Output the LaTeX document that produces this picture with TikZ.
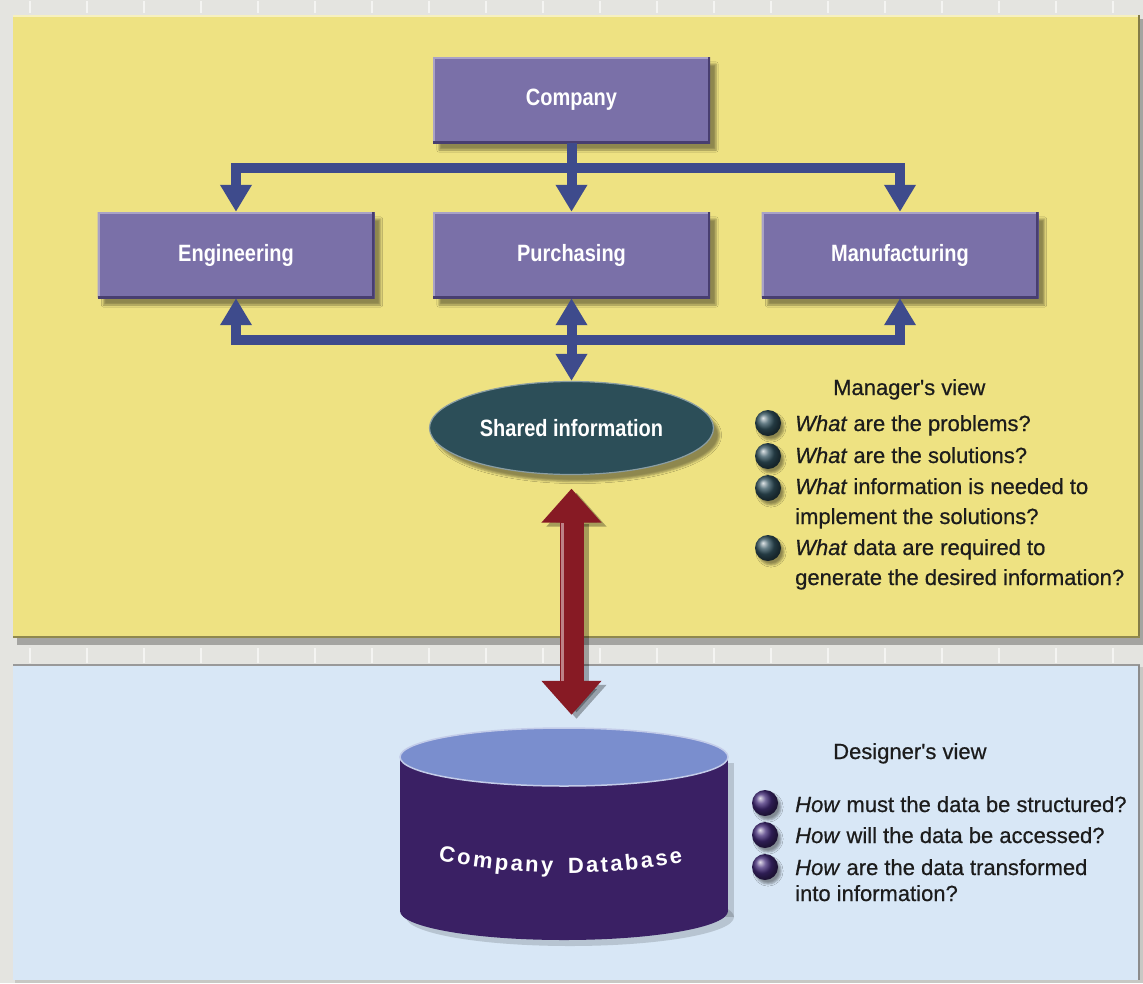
\documentclass[tikz,border=0pt]{standalone}
\usepackage{fontspec}
\setmainfont{Liberation Sans}
\newfontfamily\medfont[BoldFont={Liberation Sans}, BoldItalicFont={Liberation Sans Italic},
  BoldFeatures={FakeBold=0.6}, BoldItalicFeatures={FakeBold=0.6}]{Liberation Sans}
\usetikzlibrary{shapes.geometric,arrows.meta,shadows.blur,calc}

\definecolor{bggray}{RGB}{228,228,224}
\definecolor{panelyellow}{RGB}{238,226,130}
\definecolor{panelblue}{RGB}{216,231,246}
\definecolor{boxpurple}{RGB}{122,112,168}
\definecolor{boxdark}{RGB}{72,62,112}
\definecolor{busblue}{RGB}{62,75,140}
\definecolor{sharedteal}{RGB}{44,78,88}
\definecolor{redarrow}{RGB}{135,26,36}
\definecolor{dbbody}{RGB}{58,32,100}
\definecolor{dbtop}{RGB}{122,142,206}
\definecolor{bullteal}{RGB}{50,82,94}
\definecolor{bullpurple}{RGB}{66,42,120}
\definecolor{ink}{RGB}{28,28,28}

% box labels are set a little taller than the plain face
\newcommand\tallabel[1]{\scalebox{1}[1.18]{#1}}

\begin{document}
\begin{tikzpicture}[x=1pt,y=-1pt,
  dept/.style={rectangle, fill=boxpurple, minimum width=277pt, minimum height=86pt,
    inner sep=0pt, text=white, font=\fontsize{20}{24}\selectfont\bfseries,
    blur shadow={shadow xshift=6pt, shadow yshift=-7pt, shadow opacity=40},
    path picture={
      \draw[line width=4pt, boxpurple!65!white]
        (path picture bounding box.south west) -- (path picture bounding box.north west)
        -- (path picture bounding box.north east);
      \draw[line width=5pt, boxdark]
        (path picture bounding box.south west) -- (path picture bounding box.south east)
        -- (path picture bounding box.north east);}},
  sharedstyle/.style={ellipse, fill=sharedteal, draw=sharedteal!55!white, line width=1.2pt,
    minimum width=284pt, minimum height=93pt, inner sep=0pt, text=white,
    font=\fontsize{20}{24}\selectfont\bfseries,
    blur shadow={shadow xshift=6pt, shadow yshift=-7pt, shadow opacity=40}},
  bus/.style={draw=busblue, line width=10pt},
  headtip/.style={-{Triangle[width=30pt,length=27pt]}},
  twotips/.style={{Triangle[width=30pt,length=27pt]}-{Triangle[width=30pt,length=27pt]}},
  bigarrow/.style={draw=redarrow, line width=24pt,
    {Triangle[width=58pt,length=34pt]}-{Triangle[width=58pt,length=34pt]}},
  bullet/.style={circle, minimum size=26pt, inner sep=0pt, shade,
    blur shadow={shadow xshift=3pt, shadow yshift=-4pt, shadow opacity=40}},
  listtext/.style={anchor=base west, inner sep=0pt, text=ink,
    font=\fontsize{22}{26}\medfont\bfseries},
  dbchar/.style={anchor=base, inner sep=0pt, text=white,
    font=\fontsize{22}{22}\selectfont\bfseries},
]
\useasboundingbox (0,0) rectangle (1143,983);

% backdrop and its ribbed strips
\fill[bggray] (0,0) rectangle (1143,983);
\foreach \x in {30,87,...,1143} {
  \draw[white, opacity=.6, line width=1.5pt] (\x,1) -- (\x,13);
  \draw[white, opacity=.6, line width=1.5pt] (\x,648) -- (\x,663);
}

% upper (yellow) panel
\fill[black, opacity=.28] (17,19) rectangle (1143,645);
\fill[panelyellow] (13,15) rectangle (1140,638);
\draw[white, opacity=.5, line width=1.5pt] (13,16) -- (1140,16);
\draw[panelyellow!55!black, line width=2pt] (1139,15) -- (1139,638);
\draw[panelyellow!60!black, line width=2pt] (13,637) -- (1140,637);

% lower (blue) panel
\fill[black, opacity=.12] (15,667) rectangle (1143,983);
\fill[panelblue] (13,665) rectangle (1140,980);
\draw[gray!80, line width=1.5pt] (13,665) -- (1140,665);
\draw[gray!90, line width=2pt] (1139,665) -- (1139,980);

% organisation boxes
\node[dept] (company) at (571.5,100) {\tallabel{Company}};
\node[dept] (eng) at (236,255) {\tallabel{Engineering}};
\node[dept] (pur) at (571.5,255) {\tallabel{Purchasing}};
\node[dept] (man) at (900,255) {\tallabel{Manufacturing}};
\node[sharedstyle] (shared) at (571.5,428) {\tallabel{Shared information}};

% blue connectors
\coordinate (tb) at (571.5,168);
\coordinate (bb) at (571.5,340);
\draw[bus, headtip] (company.south) -- (tb) -| (eng.north);
\draw[bus, headtip] (company.south) -- (tb) -| (man.north);
\draw[bus, headtip] (company.south) -- (pur.north);
\draw[bus, headtip] (bb) -| (eng.south);
\draw[bus, headtip] (bb) -| (man.south);
\draw[bus, twotips] (pur.south) -- (shared.north);

% database cylinder
\node[minimum width=328pt, minimum height=212pt, inner sep=0pt] (db) at (564,834) {};
\fill[black, opacity=.15] (406,763) rectangle (734,917);
\fill[black, opacity=.15] (570,917) ellipse [x radius=164pt, y radius=29pt];
\fill[dbbody] (400,757) rectangle (728,911);
\fill[dbbody] (564,911) ellipse [x radius=164pt, y radius=29pt];
\fill[dbtop] (564,757) ellipse [x radius=164pt, y radius=29pt];
\draw[dbtop!45!white, line width=1.5pt] (564,757) ellipse [x radius=164pt, y radius=29pt];

% its label, letter-spaced on a shallow curve
\foreach \c/\x [count=\i] in {C/445.9, o/463.1, m/482.1, p/501.1, a/516.4, n/531.7,
    y/547.0, D/576.0, a/592.5, t/604.8, a/617.0, b/632.3, a/647.6, s/662.3, e/677.0} {
  \pgfmathsetmacro\yy{873-0.00076*(\x-566)^2}
  \pgfmathsetmacro\ang{atan(0.00152*(\x-566))}
  \node[dbchar, rotate=\ang] (dbc\i) at (\x,\yy) {\c};
}

% red two-way arrow between shared information and the database
\draw[bigarrow, draw=black, opacity=.3, shorten <=13.5pt, shorten >=13pt,
      transform canvas={shift={(5pt,-4pt)}}]
  (shared.south) -- (shared.south |- db.north);
\draw[bigarrow, shorten <=13.5pt, shorten >=13pt]
  (shared.south) -- (shared.south |- db.north);
\draw[redarrow!55!white, line width=3pt, shorten <=48pt, shorten >=47pt,
      transform canvas={xshift=-9pt}]
  (shared.south) -- (shared.south |- db.north);

% manager's view
\node[listtext] (mhead) at (833,395) {Manager's view};
\foreach \y [count=\i] in {423,456,488,548}
  \node[bullet, ball color=bullteal] (mb\i) at (768,\y) {};
\node[listtext] (m1) at (795,431) {\textit{What} are the problems?};
\node[listtext] (m2) at (795,463) {\textit{What} are the solutions?};
\node[listtext] (m3a) at (795,494) {\textit{What} information is needed to};
\node[listtext] (m3b) at (795,524) {implement the solutions?};
\node[listtext] (m4a) at (795,555) {\textit{What} data are required to};
\node[listtext] (m4b) at (795,585) {generate the desired information?};

% designer's view
\node[listtext] (dhead) at (833,759) {Designer's view};
\foreach \y [count=\i] in {803,835,867}
  \node[bullet, ball color=bullpurple] (dbul\i) at (765,\y) {};
\node[listtext] (d1) at (795,812) {\textit{How} must the data be structured?};
\node[listtext] (d2) at (795,843) {\textit{How} will the data be accessed?};
\node[listtext] (d3a) at (795,875) {\textit{How} are the data transformed};
\node[listtext] (d3b) at (795,901) {into information?};
\end{tikzpicture}
\end{document}
